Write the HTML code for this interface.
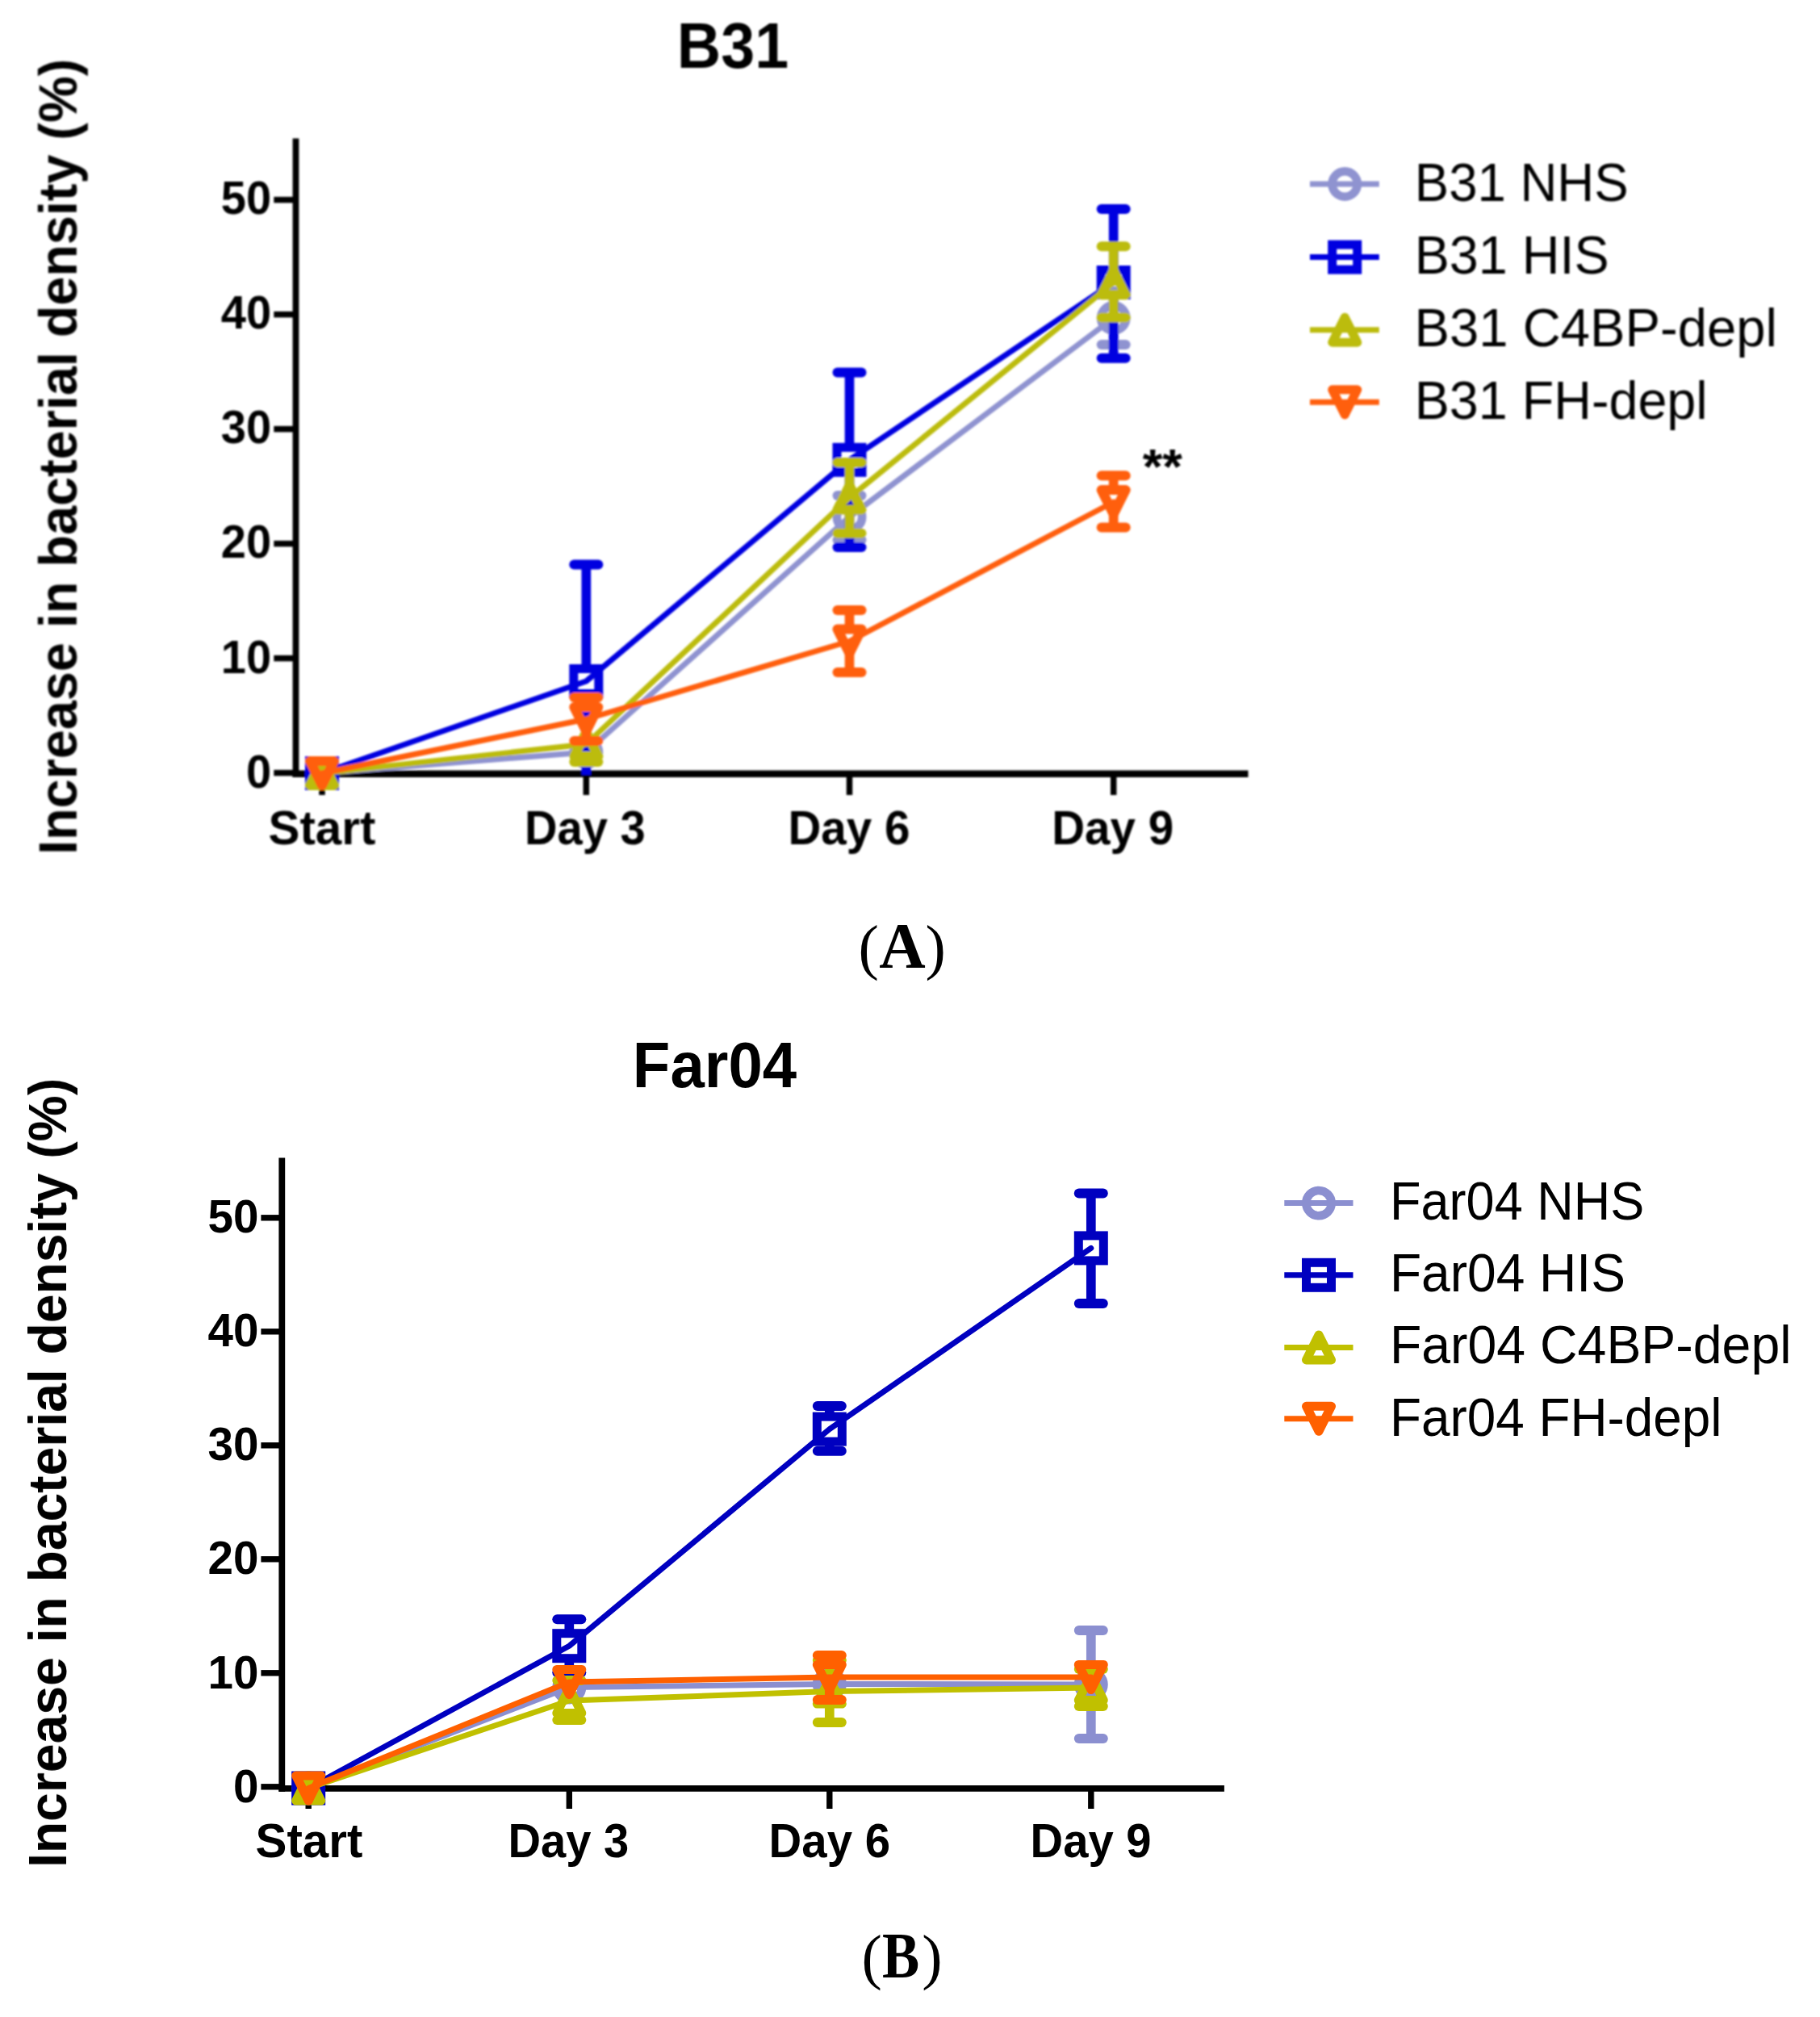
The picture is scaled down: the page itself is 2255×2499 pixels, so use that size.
<!DOCTYPE html>
<html lang="en"><head><meta charset="utf-8"><title>Figure</title>
<style>html,body{margin:0;padding:0;background:#fff}svg{display:block}</style>
</head><body><svg width="2255" height="2499" viewBox="0 0 2255 2499"><rect width="2255" height="2499" fill="#fff"/><defs><filter id="softA" filterUnits="userSpaceOnUse" x="0" y="0" width="2255" height="2499"><feGaussianBlur stdDeviation="1"/></filter><filter id="softB" filterUnits="userSpaceOnUse" x="0" y="0" width="2255" height="2499"><feGaussianBlur stdDeviation="0.55"/></filter></defs><g filter="url(#softA)"><line x1="366.5" y1="171.5" x2="366.5" y2="963.0" stroke="#000" stroke-width="7.8"/><line x1="362.60" y1="958.8" x2="1546.5" y2="958.8" stroke="#000" stroke-width="8.5"/><line x1="339.3" y1="957.6" x2="366.5" y2="957.6" stroke="#000" stroke-width="7.5"/><text transform="translate(304.95,975.80) scale(0.9750,1)" font-family='"Liberation Sans", sans-serif' font-size="57.5" font-weight="bold">0</text><line x1="339.3" y1="815.6" x2="366.5" y2="815.6" stroke="#000" stroke-width="7.5"/><text transform="translate(273.75,833.60) scale(0.9750,1)" font-family='"Liberation Sans", sans-serif' font-size="57.5" font-weight="bold">10</text><line x1="339.3" y1="673.6" x2="366.5" y2="673.6" stroke="#000" stroke-width="7.5"/><text transform="translate(273.75,691.40) scale(0.9750,1)" font-family='"Liberation Sans", sans-serif' font-size="57.5" font-weight="bold">20</text><line x1="339.3" y1="531.6" x2="366.5" y2="531.6" stroke="#000" stroke-width="7.5"/><text transform="translate(273.75,549.20) scale(0.9750,1)" font-family='"Liberation Sans", sans-serif' font-size="57.5" font-weight="bold">30</text><line x1="339.3" y1="389.6" x2="366.5" y2="389.6" stroke="#000" stroke-width="7.5"/><text transform="translate(273.75,407.00) scale(0.9750,1)" font-family='"Liberation Sans", sans-serif' font-size="57.5" font-weight="bold">40</text><line x1="339.3" y1="247.6" x2="366.5" y2="247.6" stroke="#000" stroke-width="7.5"/><text transform="translate(273.75,264.80) scale(0.9750,1)" font-family='"Liberation Sans", sans-serif' font-size="57.5" font-weight="bold">50</text><line x1="399.0" y1="958.8" x2="399.0" y2="985.0" stroke="#000" stroke-width="7.5"/><text transform="translate(332.52,1046.00) scale(0.9886,1)" font-family='"Liberation Sans", sans-serif' font-size="59" font-weight="bold">Start</text><line x1="726.3" y1="958.8" x2="726.3" y2="985.0" stroke="#000" stroke-width="7.5"/><text transform="translate(650.00,1046.00) scale(0.9503,1)" font-family='"Liberation Sans", sans-serif' font-size="59" font-weight="bold">Day 3</text><line x1="1052.5" y1="958.8" x2="1052.5" y2="985.0" stroke="#000" stroke-width="7.5"/><text transform="translate(976.57,1046.00) scale(0.9576,1)" font-family='"Liberation Sans", sans-serif' font-size="59" font-weight="bold">Day 6</text><line x1="1379.7" y1="958.8" x2="1379.7" y2="985.0" stroke="#000" stroke-width="7.5"/><text transform="translate(1303.16,1046.00) scale(0.9589,1)" font-family='"Liberation Sans", sans-serif' font-size="59" font-weight="bold">Day 9</text><text transform="translate(838.73,84.00) scale(0.9550,1)" font-family='"Liberation Sans", sans-serif' font-size="79" font-weight="bold">B31</text><text transform="translate(94.80,1058.87) rotate(-90) scale(0.9668,1)" font-family='"Liberation Sans", sans-serif' font-size="67" font-weight="bold">Increase in bacterial density (%)</text><g><line x1="1052.5" y1="614.0" x2="1052.5" y2="624.9" stroke="#8F93D0" stroke-width="11.7"/><line x1="1037.5" y1="614.0" x2="1067.5" y2="614.0" stroke="#8F93D0" stroke-width="12" stroke-linecap="round"/><line x1="1052.5" y1="655.9" x2="1052.5" y2="668.9" stroke="#8F93D0" stroke-width="11.7"/><line x1="1037.5" y1="668.9" x2="1067.5" y2="668.9" stroke="#8F93D0" stroke-width="12" stroke-linecap="round"/><line x1="1379.7" y1="361.0" x2="1379.7" y2="378.5" stroke="#8F93D0" stroke-width="11.7"/><line x1="1364.7" y1="361.0" x2="1394.7" y2="361.0" stroke="#8F93D0" stroke-width="12" stroke-linecap="round"/><line x1="1379.7" y1="409.5" x2="1379.7" y2="427.0" stroke="#8F93D0" stroke-width="11.7"/><line x1="1364.7" y1="427.0" x2="1394.7" y2="427.0" stroke="#8F93D0" stroke-width="12" stroke-linecap="round"/><circle cx="399.0" cy="958.0" r="15.7" fill="none" stroke="#8F93D0" stroke-width="10.5"/><circle cx="726.3" cy="932.0" r="15.7" fill="none" stroke="#8F93D0" stroke-width="10.5"/><circle cx="1052.5" cy="640.4" r="15.7" fill="none" stroke="#8F93D0" stroke-width="10.5"/><circle cx="1379.7" cy="394.0" r="15.7" fill="none" stroke="#8F93D0" stroke-width="10.5"/><polyline points="399.0,958.0 726.3,932.0 1052.5,640.4 1379.7,394.0" fill="none" stroke="#8F93D0" stroke-width="7" stroke-linecap="round" stroke-linejoin="round"/></g><g><line x1="726.3" y1="699.5" x2="726.3" y2="828.5" stroke="#0000E0" stroke-width="11.7"/><line x1="711.3" y1="699.5" x2="741.3" y2="699.5" stroke="#0000E0" stroke-width="12" stroke-linecap="round"/><line x1="726.3" y1="859.5" x2="726.3" y2="960.0" stroke="#0000E0" stroke-width="11.7"/><line x1="1052.5" y1="461.4" x2="1052.5" y2="554.3" stroke="#0000E0" stroke-width="11.7"/><line x1="1037.5" y1="461.4" x2="1067.5" y2="461.4" stroke="#0000E0" stroke-width="12" stroke-linecap="round"/><line x1="1052.5" y1="585.3" x2="1052.5" y2="678.0" stroke="#0000E0" stroke-width="11.7"/><line x1="1037.5" y1="678.0" x2="1067.5" y2="678.0" stroke="#0000E0" stroke-width="12" stroke-linecap="round"/><line x1="1379.7" y1="259.0" x2="1379.7" y2="334.5" stroke="#0000E0" stroke-width="11.7"/><line x1="1364.7" y1="259.0" x2="1394.7" y2="259.0" stroke="#0000E0" stroke-width="12" stroke-linecap="round"/><line x1="1379.7" y1="365.5" x2="1379.7" y2="443.7" stroke="#0000E0" stroke-width="11.7"/><line x1="1364.7" y1="443.7" x2="1394.7" y2="443.7" stroke="#0000E0" stroke-width="12" stroke-linecap="round"/><rect x="383.5" y="942.5" width="31.0" height="31.0" fill="none" stroke="#0000E0" stroke-width="11"/><rect x="710.8" y="828.5" width="31.0" height="31.0" fill="none" stroke="#0000E0" stroke-width="11"/><rect x="1037.0" y="554.3" width="31.0" height="31.0" fill="none" stroke="#0000E0" stroke-width="11"/><rect x="1364.2" y="334.5" width="31.0" height="31.0" fill="none" stroke="#0000E0" stroke-width="11"/><polyline points="399.0,958.0 726.3,844.0 1052.5,569.8 1379.7,350.0" fill="none" stroke="#0000E0" stroke-width="7" stroke-linecap="round" stroke-linejoin="round"/></g><g><line x1="726.3" y1="937.5" x2="726.3" y2="944.0" stroke="#BCBC10" stroke-width="11.7"/><line x1="711.3" y1="944.0" x2="741.3" y2="944.0" stroke="#BCBC10" stroke-width="12" stroke-linecap="round"/><line x1="1052.5" y1="573.0" x2="1052.5" y2="601.0" stroke="#BCBC10" stroke-width="11.7"/><line x1="1037.5" y1="573.0" x2="1067.5" y2="573.0" stroke="#BCBC10" stroke-width="12" stroke-linecap="round"/><line x1="1052.5" y1="632.0" x2="1052.5" y2="660.7" stroke="#BCBC10" stroke-width="11.7"/><line x1="1037.5" y1="660.7" x2="1067.5" y2="660.7" stroke="#BCBC10" stroke-width="12" stroke-linecap="round"/><line x1="1379.7" y1="305.3" x2="1379.7" y2="334.7" stroke="#BCBC10" stroke-width="11.7"/><line x1="1364.7" y1="305.3" x2="1394.7" y2="305.3" stroke="#BCBC10" stroke-width="12" stroke-linecap="round"/><line x1="1379.7" y1="365.7" x2="1379.7" y2="393.5" stroke="#BCBC10" stroke-width="11.7"/><line x1="1364.7" y1="393.5" x2="1394.7" y2="393.5" stroke="#BCBC10" stroke-width="12" stroke-linecap="round"/><path d="M399.0 943.0L414.0 973.0L384.0 973.0Z" fill="none" stroke="#BCBC10" stroke-width="12" stroke-linejoin="round"/><path d="M726.3 907.0L741.3 937.0L711.3 937.0Z" fill="none" stroke="#BCBC10" stroke-width="12" stroke-linejoin="round"/><path d="M1052.5 601.5L1067.5 631.5L1037.5 631.5Z" fill="none" stroke="#BCBC10" stroke-width="12" stroke-linejoin="round"/><path d="M1379.7 335.2L1394.7 365.2L1364.7 365.2Z" fill="none" stroke="#BCBC10" stroke-width="12" stroke-linejoin="round"/><polyline points="399.0,958.0 726.3,922.0 1052.5,616.5 1379.7,350.2" fill="none" stroke="#BCBC10" stroke-width="7" stroke-linecap="round" stroke-linejoin="round"/></g><g><line x1="726.3" y1="864.0" x2="726.3" y2="875.5" stroke="#FF5F10" stroke-width="11.7"/><line x1="711.3" y1="864.0" x2="741.3" y2="864.0" stroke="#FF5F10" stroke-width="12" stroke-linecap="round"/><line x1="726.3" y1="906.5" x2="726.3" y2="918.0" stroke="#FF5F10" stroke-width="11.7"/><line x1="711.3" y1="918.0" x2="741.3" y2="918.0" stroke="#FF5F10" stroke-width="12" stroke-linecap="round"/><line x1="1052.5" y1="756.0" x2="1052.5" y2="779.0" stroke="#FF5F10" stroke-width="11.7"/><line x1="1037.5" y1="756.0" x2="1067.5" y2="756.0" stroke="#FF5F10" stroke-width="12" stroke-linecap="round"/><line x1="1052.5" y1="810.0" x2="1052.5" y2="833.0" stroke="#FF5F10" stroke-width="11.7"/><line x1="1037.5" y1="833.0" x2="1067.5" y2="833.0" stroke="#FF5F10" stroke-width="12" stroke-linecap="round"/><line x1="1379.7" y1="589.3" x2="1379.7" y2="606.5" stroke="#FF5F10" stroke-width="11.7"/><line x1="1364.7" y1="589.3" x2="1394.7" y2="589.3" stroke="#FF5F10" stroke-width="12" stroke-linecap="round"/><line x1="1379.7" y1="637.5" x2="1379.7" y2="653.4" stroke="#FF5F10" stroke-width="11.7"/><line x1="1364.7" y1="653.4" x2="1394.7" y2="653.4" stroke="#FF5F10" stroke-width="12" stroke-linecap="round"/><path d="M399.0 973.0L414.0 943.0L384.0 943.0Z" fill="none" stroke="#FF5F10" stroke-width="12" stroke-linejoin="round"/><path d="M726.3 906.0L741.3 876.0L711.3 876.0Z" fill="none" stroke="#FF5F10" stroke-width="12" stroke-linejoin="round"/><path d="M1052.5 809.5L1067.5 779.5L1037.5 779.5Z" fill="none" stroke="#FF5F10" stroke-width="12" stroke-linejoin="round"/><path d="M1379.7 637.0L1394.7 607.0L1364.7 607.0Z" fill="none" stroke="#FF5F10" stroke-width="12" stroke-linejoin="round"/><polyline points="399.0,958.0 726.3,891.0 1052.5,794.5 1379.7,622.0" fill="none" stroke="#FF5F10" stroke-width="7" stroke-linecap="round" stroke-linejoin="round"/></g><circle cx="1666.2" cy="228.0" r="15.7" fill="none" stroke="#8F93D0" stroke-width="10.5"/><line x1="1623" y1="228" x2="1708.8" y2="228" stroke="#8F93D0" stroke-width="7"/><text transform="translate(1752.75,249.00) scale(0.9415,1)" font-family='"Liberation Sans", sans-serif' font-size="67.5" font-weight="normal">B31 NHS</text><rect x="1650.7" y="303.1" width="31.0" height="31.0" fill="none" stroke="#0000E0" stroke-width="11"/><line x1="1623" y1="318.6" x2="1708.8" y2="318.6" stroke="#0000E0" stroke-width="7"/><text transform="translate(1752.65,339.00) scale(0.9587,1)" font-family='"Liberation Sans", sans-serif' font-size="67.5" font-weight="normal">B31 HIS</text><path d="M1666.2 393.2L1681.7 424.2L1650.7 424.2Z" fill="none" stroke="#BCBC10" stroke-width="11" stroke-linejoin="round"/><line x1="1623" y1="408.7" x2="1708.8" y2="408.7" stroke="#BCBC10" stroke-width="7"/><text transform="translate(1752.60,429.00) scale(0.9662,1)" font-family='"Liberation Sans", sans-serif' font-size="67.5" font-weight="normal">B31 C4BP-depl</text><path d="M1666.2 513.8L1681.7 482.8L1650.7 482.8Z" fill="none" stroke="#FF5F10" stroke-width="11" stroke-linejoin="round"/><line x1="1623" y1="498.3" x2="1708.8" y2="498.3" stroke="#FF5F10" stroke-width="7"/><text transform="translate(1752.65,519.00) scale(0.9582,1)" font-family='"Liberation Sans", sans-serif' font-size="67.5" font-weight="normal">B31 FH-depl</text><text transform="translate(1415.70,598.50) scale(1.0383,1)" font-family='"Liberation Sans", sans-serif' font-size="61" font-weight="bold">**</text></g><g filter="url(#softB)"><line x1="349.3" y1="1434.6" x2="349.3" y2="2219.8" stroke="#000" stroke-width="7.8"/><line x1="345.40" y1="2215.9" x2="1516.9" y2="2215.9" stroke="#000" stroke-width="7.8"/><line x1="323.4" y1="2213.8" x2="349.3" y2="2213.8" stroke="#000" stroke-width="7.4"/><text transform="translate(288.95,2233.00) scale(0.9850,1)" font-family='"Liberation Sans", sans-serif' font-size="57.5" font-weight="bold">0</text><line x1="323.4" y1="2072.8" x2="349.3" y2="2072.8" stroke="#000" stroke-width="7.4"/><text transform="translate(257.43,2091.70) scale(0.9850,1)" font-family='"Liberation Sans", sans-serif' font-size="57.5" font-weight="bold">10</text><line x1="323.4" y1="1931.8" x2="349.3" y2="1931.8" stroke="#000" stroke-width="7.4"/><text transform="translate(257.43,1950.40) scale(0.9850,1)" font-family='"Liberation Sans", sans-serif' font-size="57.5" font-weight="bold">20</text><line x1="323.4" y1="1790.8" x2="349.3" y2="1790.8" stroke="#000" stroke-width="7.4"/><text transform="translate(257.43,1809.10) scale(0.9850,1)" font-family='"Liberation Sans", sans-serif' font-size="57.5" font-weight="bold">30</text><line x1="323.4" y1="1649.8" x2="349.3" y2="1649.8" stroke="#000" stroke-width="7.4"/><text transform="translate(257.43,1667.80) scale(0.9850,1)" font-family='"Liberation Sans", sans-serif' font-size="57.5" font-weight="bold">40</text><line x1="323.4" y1="1508.8" x2="349.3" y2="1508.8" stroke="#000" stroke-width="7.4"/><text transform="translate(257.43,1526.50) scale(0.9850,1)" font-family='"Liberation Sans", sans-serif' font-size="57.5" font-weight="bold">50</text><line x1="382.2" y1="2215.9" x2="382.2" y2="2241.0" stroke="#000" stroke-width="7.4"/><text transform="translate(316.52,2300.70) scale(0.9886,1)" font-family='"Liberation Sans", sans-serif' font-size="59" font-weight="bold">Start</text><line x1="705.3" y1="2215.9" x2="705.3" y2="2241.0" stroke="#000" stroke-width="7.4"/><text transform="translate(629.49,2300.70) scale(0.9517,1)" font-family='"Liberation Sans", sans-serif' font-size="59" font-weight="bold">Day 3</text><line x1="1027.8" y1="2215.9" x2="1027.8" y2="2241.0" stroke="#000" stroke-width="7.4"/><text transform="translate(952.58,2300.70) scale(0.9556,1)" font-family='"Liberation Sans", sans-serif' font-size="59" font-weight="bold">Day 6</text><line x1="1351.8" y1="2215.9" x2="1351.8" y2="2241.0" stroke="#000" stroke-width="7.4"/><text transform="translate(1276.59,2300.70) scale(0.9530,1)" font-family='"Liberation Sans", sans-serif' font-size="59" font-weight="bold">Day 9</text><text transform="translate(783.87,1347.10) scale(0.9464,1)" font-family='"Liberation Sans", sans-serif' font-size="80.5" font-weight="bold">Far04</text><text transform="translate(82.00,2313.83) rotate(-90) scale(0.9587,1)" font-family='"Liberation Sans", sans-serif' font-size="67" font-weight="bold">Increase in bacterial density (%)</text><g><line x1="1351.8" y1="2020.0" x2="1351.8" y2="2071.5" stroke="#8B8FD0" stroke-width="11.7"/><line x1="1336.8" y1="2020.0" x2="1366.8" y2="2020.0" stroke="#8B8FD0" stroke-width="12" stroke-linecap="round"/><line x1="1351.8" y1="2102.5" x2="1351.8" y2="2154.0" stroke="#8B8FD0" stroke-width="11.7"/><line x1="1336.8" y1="2154.0" x2="1366.8" y2="2154.0" stroke="#8B8FD0" stroke-width="12" stroke-linecap="round"/><circle cx="382.2" cy="2215.5" r="15.7" fill="none" stroke="#8B8FD0" stroke-width="10.5"/><circle cx="705.3" cy="2090.5" r="15.7" fill="none" stroke="#8B8FD0" stroke-width="10.5"/><circle cx="1027.8" cy="2086.4" r="15.7" fill="none" stroke="#8B8FD0" stroke-width="10.5"/><circle cx="1351.8" cy="2087.0" r="15.7" fill="none" stroke="#8B8FD0" stroke-width="10.5"/><polyline points="382.2,2215.5 705.3,2090.5 1027.8,2086.4 1351.8,2087.0" fill="none" stroke="#8B8FD0" stroke-width="7" stroke-linecap="round" stroke-linejoin="round"/></g><g><line x1="705.3" y1="2006.2" x2="705.3" y2="2023.7" stroke="#0000C0" stroke-width="11.7"/><line x1="690.3" y1="2006.2" x2="720.3" y2="2006.2" stroke="#0000C0" stroke-width="12" stroke-linecap="round"/><line x1="705.3" y1="2054.7" x2="705.3" y2="2072.2" stroke="#0000C0" stroke-width="11.7"/><line x1="690.3" y1="2072.2" x2="720.3" y2="2072.2" stroke="#0000C0" stroke-width="12" stroke-linecap="round"/><line x1="1027.8" y1="1742.0" x2="1027.8" y2="1755.1" stroke="#0000C0" stroke-width="11.7"/><line x1="1012.8" y1="1742.0" x2="1042.8" y2="1742.0" stroke="#0000C0" stroke-width="12" stroke-linecap="round"/><line x1="1027.8" y1="1786.1" x2="1027.8" y2="1797.8" stroke="#0000C0" stroke-width="11.7"/><line x1="1012.8" y1="1797.8" x2="1042.8" y2="1797.8" stroke="#0000C0" stroke-width="12" stroke-linecap="round"/><line x1="1351.8" y1="1478.4" x2="1351.8" y2="1530.9" stroke="#0000C0" stroke-width="11.7"/><line x1="1336.8" y1="1478.4" x2="1366.8" y2="1478.4" stroke="#0000C0" stroke-width="12" stroke-linecap="round"/><line x1="1351.8" y1="1561.9" x2="1351.8" y2="1615.0" stroke="#0000C0" stroke-width="11.7"/><line x1="1336.8" y1="1615.0" x2="1366.8" y2="1615.0" stroke="#0000C0" stroke-width="12" stroke-linecap="round"/><rect x="366.7" y="2200.0" width="31.0" height="31.0" fill="none" stroke="#0000C0" stroke-width="11"/><rect x="689.8" y="2023.7" width="31.0" height="31.0" fill="none" stroke="#0000C0" stroke-width="11"/><rect x="1012.3" y="1755.1" width="31.0" height="31.0" fill="none" stroke="#0000C0" stroke-width="11"/><rect x="1336.3" y="1530.9" width="31.0" height="31.0" fill="none" stroke="#0000C0" stroke-width="11"/><polyline points="382.2,2215.5 705.3,2039.2 1027.8,1770.6 1351.8,1546.4" fill="none" stroke="#0000C0" stroke-width="7" stroke-linecap="round" stroke-linejoin="round"/></g><g><line x1="705.3" y1="2082.0" x2="705.3" y2="2091.5" stroke="#C0C000" stroke-width="11.7"/><line x1="690.3" y1="2082.0" x2="720.3" y2="2082.0" stroke="#C0C000" stroke-width="12" stroke-linecap="round"/><line x1="705.3" y1="2122.5" x2="705.3" y2="2131.0" stroke="#C0C000" stroke-width="11.7"/><line x1="690.3" y1="2131.0" x2="720.3" y2="2131.0" stroke="#C0C000" stroke-width="12" stroke-linecap="round"/><line x1="1027.8" y1="2057.0" x2="1027.8" y2="2080.1" stroke="#C0C000" stroke-width="11.7"/><line x1="1012.8" y1="2057.0" x2="1042.8" y2="2057.0" stroke="#C0C000" stroke-width="12" stroke-linecap="round"/><line x1="1027.8" y1="2111.1" x2="1027.8" y2="2134.0" stroke="#C0C000" stroke-width="11.7"/><line x1="1012.8" y1="2134.0" x2="1042.8" y2="2134.0" stroke="#C0C000" stroke-width="12" stroke-linecap="round"/><line x1="1351.8" y1="2068.0" x2="1351.8" y2="2075.5" stroke="#C0C000" stroke-width="11.7"/><line x1="1336.8" y1="2068.0" x2="1366.8" y2="2068.0" stroke="#C0C000" stroke-width="12" stroke-linecap="round"/><line x1="1351.8" y1="2106.5" x2="1351.8" y2="2114.0" stroke="#C0C000" stroke-width="11.7"/><line x1="1336.8" y1="2114.0" x2="1366.8" y2="2114.0" stroke="#C0C000" stroke-width="12" stroke-linecap="round"/><path d="M382.2 2200.0L397.7 2231.0L366.7 2231.0Z" fill="none" stroke="#C0C000" stroke-width="11" stroke-linejoin="round"/><path d="M705.3 2091.5L720.8 2122.5L689.8 2122.5Z" fill="none" stroke="#C0C000" stroke-width="11" stroke-linejoin="round"/><path d="M1027.8 2080.1L1043.3 2111.1L1012.3 2111.1Z" fill="none" stroke="#C0C000" stroke-width="11" stroke-linejoin="round"/><path d="M1351.8 2075.5L1367.3 2106.5L1336.3 2106.5Z" fill="none" stroke="#C0C000" stroke-width="11" stroke-linejoin="round"/><polyline points="382.2,2215.5 705.3,2107.0 1027.8,2095.6 1351.8,2091.0" fill="none" stroke="#C0C000" stroke-width="7" stroke-linecap="round" stroke-linejoin="round"/></g><g><line x1="1027.8" y1="2051.0" x2="1027.8" y2="2062.5" stroke="#FF6000" stroke-width="11.7"/><line x1="1012.8" y1="2051.0" x2="1042.8" y2="2051.0" stroke="#FF6000" stroke-width="12" stroke-linecap="round"/><line x1="1027.8" y1="2093.5" x2="1027.8" y2="2106.0" stroke="#FF6000" stroke-width="11.7"/><line x1="1012.8" y1="2106.0" x2="1042.8" y2="2106.0" stroke="#FF6000" stroke-width="12" stroke-linecap="round"/><path d="M382.2 2231.0L397.7 2200.0L366.7 2200.0Z" fill="none" stroke="#FF6000" stroke-width="11" stroke-linejoin="round"/><path d="M705.3 2099.5L720.8 2068.5L689.8 2068.5Z" fill="none" stroke="#FF6000" stroke-width="11" stroke-linejoin="round"/><path d="M1027.8 2093.5L1043.3 2062.5L1012.3 2062.5Z" fill="none" stroke="#FF6000" stroke-width="11" stroke-linejoin="round"/><path d="M1351.8 2093.5L1367.3 2062.5L1336.3 2062.5Z" fill="none" stroke="#FF6000" stroke-width="11" stroke-linejoin="round"/><polyline points="382.2,2215.5 705.3,2084.0 1027.8,2078.0 1351.8,2078.0" fill="none" stroke="#FF6000" stroke-width="7" stroke-linecap="round" stroke-linejoin="round"/></g><circle cx="1634.0" cy="1490.6" r="15.7" fill="none" stroke="#8B8FD0" stroke-width="10.5"/><line x1="1591.3" y1="1490.6" x2="1676.5" y2="1490.6" stroke="#8B8FD0" stroke-width="7"/><text transform="translate(1722.06,1510.80) scale(0.9481,1)" font-family='"Liberation Sans", sans-serif' font-size="66.5" font-weight="normal">Far04 NHS</text><rect x="1618.5" y="1564.3" width="31.0" height="31.0" fill="none" stroke="#0000C0" stroke-width="11"/><line x1="1591.3" y1="1579.8" x2="1676.5" y2="1579.8" stroke="#0000C0" stroke-width="7"/><text transform="translate(1721.98,1600.10) scale(0.9634,1)" font-family='"Liberation Sans", sans-serif' font-size="66.5" font-weight="normal">Far04 HIS</text><path d="M1634.0 1653.9L1649.5 1684.9L1618.5 1684.9Z" fill="none" stroke="#C0C000" stroke-width="11" stroke-linejoin="round"/><line x1="1591.3" y1="1669.4" x2="1676.5" y2="1669.4" stroke="#C0C000" stroke-width="7"/><text transform="translate(1721.96,1689.40) scale(0.9685,1)" font-family='"Liberation Sans", sans-serif' font-size="66.5" font-weight="normal">Far04 C4BP-depl</text><path d="M1634.0 1773.3L1649.5 1742.3L1618.5 1742.3Z" fill="none" stroke="#FF6000" stroke-width="11" stroke-linejoin="round"/><line x1="1591.3" y1="1757.8" x2="1676.5" y2="1757.8" stroke="#FF6000" stroke-width="7"/><text transform="translate(1722.00,1778.80) scale(0.9599,1)" font-family='"Liberation Sans", sans-serif' font-size="66.5" font-weight="normal">Far04 FH-depl</text></g><text x="1063.5" y="1199" font-family='"Liberation Serif", serif' font-size="76">(</text><text transform="translate(1089.3,1199) scale(1.0,1)" font-family='"Liberation Serif", serif' font-size="79.5" font-weight="bold">A</text><text x="1146.6" y="1199" font-family='"Liberation Serif", serif' font-size="76">)</text><text x="1067.5" y="2450.3" font-family='"Liberation Serif", serif' font-size="76">(</text><text transform="translate(1093,2450.3) scale(0.87,1)" font-family='"Liberation Serif", serif' font-size="79.5" font-weight="bold">B</text><text x="1142.2" y="2450.3" font-family='"Liberation Serif", serif' font-size="76">)</text></svg></body></html>
